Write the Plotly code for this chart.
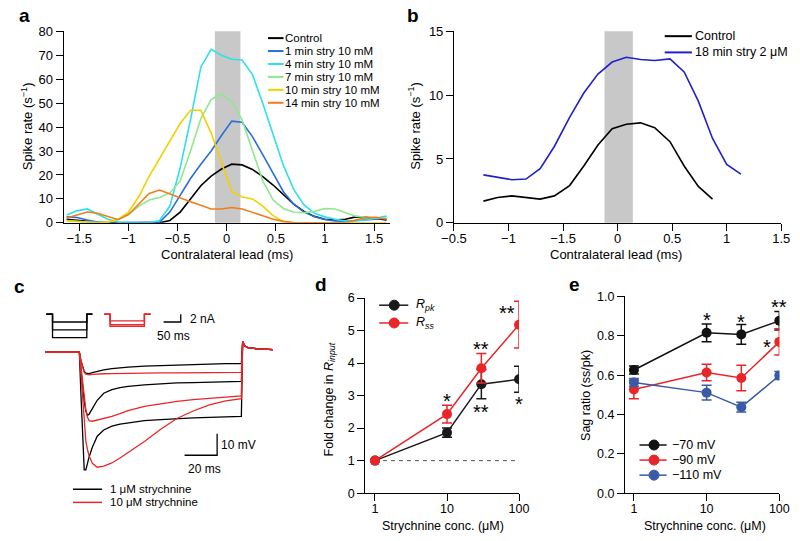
import math
import plotly.graph_objects as go

W, H = 800, 541
FONT = "Liberation Sans, Arial, Helvetica, sans-serif"

# ---------------- Panel a: spike rate vs contralateral lead ----------------
a_lead_ms = [-1.628, -1.523, -1.418, -1.313, -1.208, -1.103, -0.998, -0.893,
             -0.788, -0.683, -0.578, -0.473, -0.368, -0.263, -0.158, -0.053,
             0.052, 0.157, 0.262, 0.367, 0.472, 0.577, 0.682, 0.787,
             0.892, 0.997, 1.102, 1.207, 1.312, 1.417, 1.522, 1.627]
a_control = [1.5, 1.0, 0.5, 0.2, 0, 0, 0, 0, 0, 0, 1.0, 4.5, 10, 15.5, 19.5, 22.5,
             24.5, 24.2, 22.3, 19.3, 15.8, 11.8, 7.8, 4.8, 2.7, 1.5, 1.2, 1.5, 2.5, 2.3, 1.8, 1.2]
a_1min = [2.5, 2.2, 1.2, 0.3, 0, 0, 0, 0, 0, 0.3, 4.5, 11.5, 18.5, 24.5, 30, 36.5,
          42.5, 42, 36, 28.5, 20.5, 13, 7.8, 4.5, 2.6, 1.4, 0.8, 0.6, 1, 1.3, 1.6, 1.8]
a_4min = [3.3, 5, 5.8, 3.8, 1.5, 0.3, 0, 0, 0, 1, 7, 23, 43, 65, 72.5, 70,
          68.3, 68, 62, 50, 37, 24, 14, 7.5, 4, 2.5, 1.5, 0.8, 0.8, 1.2, 2, 2.8]
a_7min = [1, 0.5, 0.3, 0, 0.3, 1.5, 3.5, 7, 9.5, 10.6, 12.5, 17.5, 30, 43.5, 51.5, 54,
          50.5, 43, 30, 17.5, 9.5, 6, 4.4, 4.2, 4.8, 6.0, 5.8, 4.2, 2.8, 2.3, 2.1, 1.9]
a_10min = [0.8, 0.5, 0.3, 0.1, 0.3, 1.5, 4.5, 11, 19.5, 27, 34.5, 41.5, 47, 47, 37.5, 25,
           13, 10.8, 10, 7, 3, 0.5, 0, 0, 0, 0, 0, 0, 0, 0, 0, 0]
a_14min = [2, 3.3, 4.5, 4, 2.5, 1.3, 3.5, 8, 12.3, 13.7, 12, 10.5, 8.8, 7.3, 5.8, 5.8,
           6.4, 5.8, 4.5, 3, 1.5, 0.6, 0.1, 0, 0, 0, 0, 0, 1, 2.2, 2.3, 1.5]
a_names = ["Control", "1 min stry 10 mM", "4 min stry 10 mM", "7 min stry 10 mM",
           "10 min stry 10 mM", "14 min stry 10 mM"]
a_series = [a_control, a_1min, a_4min, a_7min, a_10min, a_14min]
a_colors = ["#000000", "#2a6fd8", "#2ee0ec", "#8ee88c", "#f4d000", "#f07c1c"]
a_yticks = [0, 10, 20, 30, 40, 50, 60, 70, 80]
a_xticks = [-1.5, -1, -0.5, 0, 0.5, 1, 1.5]
stim_window_ms = [-0.12, 0.14]

# ---------------- Panel b ----------------
b_lead_ms = [-1.23, -1.10, -0.97, -0.84, -0.71, -0.58, -0.44, -0.31, -0.18, -0.05,
             0.08, 0.21, 0.34, 0.48, 0.61, 0.74, 0.87, 1.00, 1.13]
b_control = [1.70, 1.98, 2.11, 1.98, 1.86, 2.11, 2.92, 4.45, 6.1, 7.37,
             7.72, 7.83, 7.45, 6.36, 4.45, 2.85, 1.86]
b_stry = [3.76, 3.56, 3.38, 3.43, 4.25, 5.98, 8.26, 10.17, 11.65, 12.59,
          12.97, 12.79, 12.71, 12.84, 11.82, 9.53, 6.61, 4.58, 3.81]
b_names = ["Control", "18 min stry 2 \u03bcM"]
b_colors = ["#000000", "#2020cc"]
b_xtickvals = [-1.5, -1, -0.5, 0, 0.5, 1, 1.5]
b_xticktext = ["\u22120.5", "\u22121", "\u22121.5", "0", "0.5", "1", "1.5"]
b_yticks = [0, 5, 10, 15]

# ---------------- Panel c: voltage responses ----------------
c_t_ms = [-21, 0, 1, 2, 3, 4, 5, 6, 8, 11, 15, 20, 25, 30, 40, 50, 60, 70, 80, 90,
          99.6, 100.4, 101.5, 104, 110, 119]
c_black_small = [0, 0, -4, -7, -9, -9.8, -10, -10, -9.6, -9, -8.3, -7.7, -7.3, -7, -6.5,
                 -6.2, -5.9, -5.7, -5.6, -5.4, -5.3, 5, 3, 2, 1.5, 1.2]
c_black_mid = [0, 0, -8, -16, -23, -27.5, -29.5, -29, -26.5, -22.5, -19.2, -17.5, -16.6,
               -16, -15.3, -14.8, -14.4, -14.2, -14, -13.8, -13.7, 5, 3, 2, 1.5, 1.2]
c_black_large = [0, 0, -20, -42, -55, -55, -52, -49, -44.5, -39.3, -36.4, -34.6, -33.6,
                 -33, -32, -31.5, -31, -30.7, -30.5, -30.2, -30, 5, 3, 2, 1.5, 1.2]
c_red_small = [0, 0, -4, -7.5, -9.5, -10.3, -10.5, -10.6, -10.4, -10.2, -10.1, -10, -9.9,
               -9.9, -9.8, -9.7, -9.7, -9.6, -9.6, -9.5, -9.5, 5, 3, 2, 1.5, 1.2]
c_red_mid = [0, 0, -7, -14, -21, -27, -30.5, -32, -32.3, -31.8, -31, -30, -28.7, -27.3,
             -25.3, -24, -23, -22.2, -21.5, -21, -20.5, 5, 3, 2, 1.5, 1.2]
c_red_large = [0, 0, -10, -22, -33, -41.7, -45.5, -48.5, -52, -53.8, -53.3, -51.8, -49.5,
               -47, -41.8, -36, -31, -27.5, -24.6, -22.8, -21.7, 5, 3, 2, 1.5, 1.2]
c_black_step_nA = [-2, -4, -6]
c_red_step_nA = [-1.7, -2.7, -3.1]
c_names = ["1 \u03bcM strychnine", "10 \u03bcM strychnine"]
c_colors = ["#000000", "#e8262a"]

# ---------------- Panel d ----------------
conc_uM = [1, 10, 30, 100]
d_rpk = [1.0, 1.86, 3.35, 3.50]
d_rpk_err = [0.0, 0.14, 0.45, 0.40]
d_rss = [1.0, 2.43, 3.84, 5.18]
d_rss_err = [0.0, 0.27, 0.45, 0.72]
d_names = ["<i>R<sub>pk</sub></i>", "<i>R<sub>ss</sub></i>"]
d_star_text = ["*", "**", "**", "**", "*"]
d_star_x = [10, 30, 30, 68, 100]
d_star_y = [3.0, 4.6, 2.64, 5.68, 2.89]

# ---------------- Panel e ----------------
e_m70 = [0.626, 0.815, 0.807, 0.876]
e_m70_err = [0.02, 0.045, 0.05, 0.047]
e_m90 = [0.527, 0.613, 0.585, 0.769]
e_m90_err = [0.047, 0.042, 0.065, 0.067]
e_m110 = [0.563, 0.511, 0.437, 0.598]
e_m110_err = [0.02, 0.038, 0.025, 0.02]
e_names = ["\u221270 mV", "\u221290 mV", "\u2212110 mV"]
e_colors = ["#111111", "#e8262a", "#3a5aa8"]
e_star_text = ["*", "*", "**", "*"]
e_star_x = [10, 30, 100, 68]
e_star_y = [0.906, 0.898, 0.972, 0.766]

BLACK_M = "#1a1a1a"
RED = "#e8262a"


def px(x):
    return x / W


def py(y):
    return 1 - y / H


fig = go.Figure()

# ---- panel a traces
for name, ys, col in zip(a_names, a_series, a_colors):
    fig.add_trace(go.Scatter(x=a_lead_ms, y=ys, mode="lines", name=name,
                             line=dict(color=col, width=1.6), showlegend=False,
                             xaxis="x", yaxis="y"))
# ---- panel b traces
for name, xs, ys, col in zip(b_names, [b_lead_ms[:len(b_control)], b_lead_ms],
                             [b_control, b_stry], b_colors):
    fig.add_trace(go.Scatter(x=xs, y=ys, mode="lines", name=name,
                             line=dict(color=col, width=1.6), showlegend=False,
                             xaxis="x2", yaxis="y2"))

# ---- panel c traces (voltage)
for ys in [c_black_small, c_black_mid, c_black_large]:
    fig.add_trace(go.Scatter(x=c_t_ms, y=ys, mode="lines", line=dict(color=c_colors[0], width=1.3),
                             showlegend=False, xaxis="x5", yaxis="y5", hoverinfo="skip"))
for ys in [c_red_small, c_red_mid, c_red_large]:
    fig.add_trace(go.Scatter(x=c_t_ms, y=ys, mode="lines", line=dict(color=c_colors[1], width=1.3),
                             showlegend=False, xaxis="x5", yaxis="y5", hoverinfo="skip"))
# current command icons (ms, nA)
for lvl in c_black_step_nA:
    fig.add_trace(go.Scatter(x=[-18, 0, 0, 100, 100, 116], y=[0, 0, lvl, lvl, 0, 0],
                             mode="lines", line=dict(color=c_colors[0], width=1.3),
                             showlegend=False, xaxis="x6", yaxis="y6", hoverinfo="skip"))
for lvl in c_red_step_nA:
    fig.add_trace(go.Scatter(x=[151, 168, 168, 268, 268, 286], y=[0, 0, lvl, lvl, 0, 0],
                             mode="lines", line=dict(color=c_colors[1], width=1.3),
                             showlegend=False, xaxis="x6", yaxis="y6", hoverinfo="skip"))
# scale bars
fig.add_trace(go.Scatter(x=[324, 374, 374], y=[-2, -2, 0], mode="lines",
                         line=dict(color="black", width=1.3), showlegend=False,
                         xaxis="x6", yaxis="y6", hoverinfo="skip"))
fig.add_trace(go.Scatter(x=[64.7, 84.7, 84.7], y=[-48.2, -48.2, -38.2], mode="lines",
                         line=dict(color="black", width=1.3), showlegend=False,
                         xaxis="x5", yaxis="y5", hoverinfo="skip"))

# ---- panel d
fig.add_trace(go.Scatter(x=[conc_uM[0], conc_uM[-1]], y=[1, 1], mode="lines",
                         line=dict(color="#555555", width=1, dash="4px,4px"),
                         showlegend=False, xaxis="x3", yaxis="y3", hoverinfo="skip"))
fig.add_trace(go.Scatter(x=conc_uM, y=d_rpk, mode="lines+markers", name="Rpk",
                         line=dict(color=BLACK_M, width=1.5),
                         marker=dict(color=BLACK_M, size=10),
                         error_y=dict(type="data", array=d_rpk_err, color=BLACK_M, thickness=1.5, width=5),
                         showlegend=False, xaxis="x3", yaxis="y3"))
fig.add_trace(go.Scatter(x=conc_uM, y=d_rss, mode="lines+markers", name="Rss",
                         line=dict(color=RED, width=1.5),
                         marker=dict(color=RED, size=10),
                         error_y=dict(type="data", array=d_rss_err, color=RED, thickness=1.5, width=5),
                         showlegend=False, xaxis="x3", yaxis="y3"))

# ---- panel e
for ys, err, col, name in zip([e_m70, e_m90, e_m110], [e_m70_err, e_m90_err, e_m110_err],
                              e_colors, e_names):
    fig.add_trace(go.Scatter(x=conc_uM, y=ys, mode="lines+markers", name=name,
                             line=dict(color=col, width=1.5),
                             marker=dict(color=col, size=10),
                             error_y=dict(type="data", array=err, color=col, thickness=1.5, width=5),
                             showlegend=False, xaxis="x4", yaxis="y4"))

shapes = []
ann = []

# stimulus window bands
for xr, yr in [("x", "y domain"), ("x2", "y2 domain")]:
    shapes.append(dict(type="rect", xref=xr, yref=yr, x0=stim_window_ms[0], x1=stim_window_ms[1],
                       y0=0, y1=1, fillcolor="#c8c8c8", line=dict(width=0), layer="below"))


def legend_line(x0, x1, y, col, w=2):
    shapes.append(dict(type="line", xref="paper", yref="paper", x0=px(x0), x1=px(x1),
                       y0=py(y), y1=py(y), line=dict(color=col, width=w)))


def legend_dot(cx, cy, col, r=5):
    shapes.append(dict(type="circle", xref="paper", yref="paper", xsizemode="pixel",
                       ysizemode="pixel", xanchor=px(cx), yanchor=py(cy),
                       x0=-r, x1=r, y0=-r, y1=r, fillcolor=col, line=dict(color=col, width=1)))


def text(x, y, s, size=12.5, xanchor="left", yanchor="middle", angle=0, col="black"):
    ann.append(dict(x=px(x), y=py(y), xref="paper", yref="paper", text=s, showarrow=False,
                    xanchor=xanchor, yanchor=yanchor, textangle=angle,
                    font=dict(family=FONT, size=size, color=col), borderpad=0))


# panel a legend
a_leg_y = [32.0, 45.3, 58.6, 71.9, 85.2, 98.5]
for yy, name, col in zip(a_leg_y, a_names, a_colors):
    legend_line(262.5, 278.5, yy, col)
    text(279.5, yy, name, size=11.5)
# panel b legend
for yy, name, col in zip([30, 46.7], b_names, b_colors):
    legend_line(671, 699, yy, col)
    text(701, yy, name, size=12.5)
# panel c legend
for yy, name, col in zip([496, 509.5], c_names, c_colors):
    legend_line(61.7, 91.7, yy, col, w=1.5)
    text(99, yy, name, size=11.5)
# panel d legend
for yy, name, col in zip([306.7, 325], d_names, [BLACK_M, RED]):
    legend_line(377, 407, yy, col, w=1.5)
    legend_dot(392.5, yy, col)
    text(414, yy, name, size=12.5)
# panel e legend
for yy, name, col in zip([450.5, 466, 481.5], e_names, e_colors):
    legend_line(645, 673, yy, col, w=1.5)
    legend_dot(660, yy, col)
    text(677, yy, name, size=12.5)

# scale bar labels in c
text(181.5, 321, "2 nA", size=12)
text(165, 338, "50 ms", size=12, xanchor="center")
text(213, 450, "10 mV", size=12)
text(197, 475, "20 ms", size=12, xanchor="center")

# panel letters
for s, x, y in [("a", 12, 9), ("b", 412, 9), ("c", 7, 287), ("d", 317, 285), ("e", 578, 285)]:
    text(x, y, "<b>%s</b>" % s, size=19, xanchor="center")

# axis titles
text(14, 123, "Spike rate (s<sup>\u22121</sup>)", size=13, xanchor="center", angle=-90)
text(220, 255, "Contralateral lead (ms)", size=13, xanchor="center")
text(413, 122, "Spike rate (s<sup>\u22121</sup>)", size=13, xanchor="center", angle=-90)
text(621, 255, "Contralateral lead (ms)", size=13, xanchor="center")
text(326, 404, "Fold change in <i>R<sub>input</sub></i>", size=12.5, xanchor="center", angle=-90)
text(443, 533.5, "Strychnine conc. (\u03bcM)", size=12.5, xanchor="center")
text(590, 400, "Sag ratio (ss/pk)", size=12.5, xanchor="center", angle=-90)
text(712, 533.5, "Strychnine conc. (\u03bcM)", size=12.5, xanchor="center")

# significance stars
for s, x, y in zip(d_star_text, d_star_x, d_star_y):
    ann.append(dict(x=math.log10(x), y=y, xref="x3", yref="y3", text=s, showarrow=False,
                    yshift=-5, font=dict(family=FONT, size=20, color="black")))
for s, x, y in zip(e_star_text, e_star_x, e_star_y):
    ann.append(dict(x=math.log10(x), y=y, xref="x4", yref="y4", text=s, showarrow=False,
                    yshift=-5, font=dict(family=FONT, size=20, color="black")))

axis_common = dict(showline=True, linecolor="black", linewidth=1, ticks="outside",
                   ticklen=7, tickwidth=1, tickcolor="black", showgrid=False, zeroline=False,
                   tickfont=dict(family=FONT, size=13, color="black"), fixedrange=True)
axis_xtop = dict(axis_common, ticklabelstandoff=-3)
axis_small = dict(axis_common, tickfont=dict(family=FONT, size=12.5, color="black"))
axis_small_x = dict(axis_small, ticklabelstandoff=-3)
hidden = dict(visible=False, showgrid=False, zeroline=False, fixedrange=True)

fig.update_layout(
    width=W, height=H, margin=dict(l=0, r=0, t=0, b=0),
    paper_bgcolor="white", plot_bgcolor="rgba(0,0,0,0)",
    font=dict(family=FONT, size=12, color="black"),
    showlegend=False,
    xaxis=dict(axis_xtop, domain=[px(52), px(388)], range=[-1.66, 1.66],
               tickvals=a_xticks, anchor="y"),
    yaxis=dict(axis_common, domain=[py(222), py(25)], range=[0, 80],
               tickvals=a_yticks, anchor="x"),
    xaxis2=dict(axis_xtop, domain=[px(454), px(791)], range=[-1.5, 1.5],
                tickvals=b_xtickvals, ticktext=b_xticktext, anchor="y2"),
    yaxis2=dict(axis_common, domain=[py(222), py(25)], range=[0, 15],
                tickvals=b_yticks, anchor="x2"),
    xaxis3=dict(axis_small_x, type="log", domain=[px(362.7), px(521)], range=[-0.135, 2.0],
                tickvals=[1, 10, 100], anchor="y3"),
    yaxis3=dict(axis_small, domain=[py(500), py(299.3)], range=[0, 6], dtick=1, anchor="x3"),
    xaxis4=dict(axis_small_x, type="log", domain=[px(630), px(789)], range=[-0.124, 2.0],
                tickvals=[1, 10, 100], anchor="y4"),
    yaxis4=dict(axis_small, domain=[py(500), py(297.7)], range=[0, 1.0], dtick=0.2,
                tickformat=".1f", anchor="x4"),
    xaxis5=dict(hidden, domain=[px(30), px(275)], range=[(30 - 68.3) / 1.675, (275 - 68.3) / 1.675],
                anchor="y5"),
    yaxis5=dict(hidden, domain=[py(520), py(270)], range=[(355 - 520) / 2.2, (355 - 270) / 2.2],
                anchor="x5"),
    xaxis6=dict(hidden, domain=[px(30), px(200)], range=[(30 - 40.7) / 0.353, (200 - 40.7) / 0.353],
                anchor="y6"),
    yaxis6=dict(hidden, domain=[py(350), py(300)], range=[(316 - 350) / 4.0, (316 - 300) / 4.0],
                anchor="x6"),
    shapes=shapes,
    annotations=ann,
)

fig.write_html("out.html", config={"displayModeBar": False},
               post_script="document.body.style.margin='0';")
